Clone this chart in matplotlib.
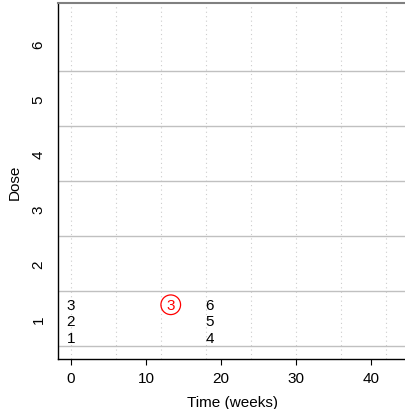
import numpy as np
import matplotlib
matplotlib.use("Agg")
import matplotlib.pyplot as plt

plt.rcParams['font.family'] = ['Liberation Sans', 'DejaVu Sans']

# patients: id, entry time (weeks), dose level
patient_id = [1, 2, 3, 4, 5, 6]
patient_time = [0, 0, 0, 18.5, 18.5, 18.5]
patient_dose = [1, 1, 1, 1, 1, 1]

# toxicity events: which patient, when
tox_patient = [3]
tox_time = [13.3]

dose_levels = [1, 2, 3, 4, 5, 6]
x_ticks = [0, 10, 20, 30, 40]
grid_weeks = np.arange(0, 43, 6)

fig = plt.figure(figsize=(4.05, 4.10), dpi=100)
ax = fig.add_axes([58/405, 50/410, 350/405, 356/410])

ax.set_xlim(-1.73, 44.93)
ax.set_ylim(0.264, 6.736)

for w in grid_weeks:
    ax.axvline(w, color='#cccccc', lw=0.8, ls=(0, (1, 3)), zorder=0)
for d in dose_levels:
    ax.axhline(d - 0.5, color='#c0c0c0', lw=1.0, zorder=1)

# stack patients within each (time, dose) cohort
offsets = [-0.35, -0.05, 0.25]
seen = {}
ypos = {}
for pid, t, d in zip(patient_id, patient_time, patient_dose):
    k = seen.get((t, d), 0)
    seen[(t, d)] = k + 1
    y = d + offsets[k]
    ypos[pid] = y
    ax.text(t, y, str(pid), ha='center', va='center', fontsize=11, color='black')

for pid, t in zip(tox_patient, tox_time):
    y = ypos[pid]
    ax.scatter([t], [y], s=200, facecolors='none', edgecolors='red', linewidths=0.9, zorder=3)
    ax.text(t, y, str(pid), ha='center', va='center', fontsize=11, color='red')

ax.set_xticks(x_ticks)
ax.set_yticks(dose_levels)
ax.set_yticklabels([str(d) for d in dose_levels], rotation=90, va='center')
ax.tick_params(axis='x', length=4, width=0.8, pad=5, labelsize=11)
ax.tick_params(axis='y', length=0, pad=9, labelsize=11)

ax.spines['right'].set_visible(False)
ax.spines['top'].set_color('#808080')
ax.spines['top'].set_linewidth(1.5)
ax.spines['left'].set_linewidth(1.0)
ax.spines['bottom'].set_linewidth(1.0)

ax.set_xlabel('Time (weeks)', fontsize=11, labelpad=7)
ax.set_ylabel('Dose', fontsize=11, labelpad=7)

fig.savefig('out.png', dpi=100)
